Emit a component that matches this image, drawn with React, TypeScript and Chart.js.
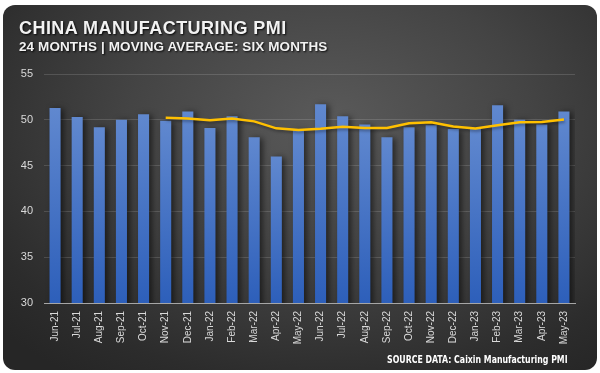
import React, { useEffect, useRef } from "react";
import { Chart, registerables } from "chart.js";

Chart.register(...registerables);

const months = [
  "Jun-21", "Jul-21", "Aug-21", "Sep-21", "Oct-21", "Nov-21", "Dec-21", "Jan-22",
  "Feb-22", "Mar-22", "Apr-22", "May-22", "Jun-22", "Jul-22", "Aug-22", "Sep-22",
  "Oct-22", "Nov-22", "Dec-22", "Jan-23", "Feb-23", "Mar-23", "Apr-23", "May-23",
];

const pmi = [
  51.3, 50.3, 49.2, 50.0, 50.6, 49.9, 50.9, 49.1,
  50.4, 48.1, 46.0, 48.9, 51.7, 50.4, 49.5, 48.1,
  49.2, 49.4, 49.0, 49.1, 51.6, 50.0, 49.5, 50.9,
];

const movingAvg: (number | null)[] = [
  null, null, null, null, null, 50.22, 50.15, 49.95,
  50.15, 49.83, 49.07, 48.9, 49.03, 49.25, 49.1, 49.1,
  49.63, 49.72, 49.27, 49.05, 49.4, 49.72, 49.77, 50.02,
];

const yMin = 30;
const yMax = 55;
const yStep = 5;

const title = "CHINA MANUFACTURING PMI";
const subtitle = "24 MONTHS | MOVING AVERAGE: SIX MONTHS";
const source = "SOURCE DATA: Caixin Manufacturing PMI";

export default function App() {
  const ref = useRef<HTMLCanvasElement | null>(null);

  useEffect(() => {
    document.body.style.margin = "0";
    const canvas = ref.current;
    if (!canvas) return;

    const shadowPlugin = {
      id: "barShadow",
      beforeDatasetDraw(chart: any, args: any) {
        const ctx = chart.ctx;
        ctx.save();
        if (args.index === 0) {
          ctx.shadowColor = "rgba(0,0,0,0.55)";
          ctx.shadowBlur = 6;
          ctx.shadowOffsetX = 3;
          ctx.shadowOffsetY = 1;
        } else {
          ctx.shadowColor = "rgba(0,0,0,0.35)";
          ctx.shadowBlur = 3;
          ctx.shadowOffsetX = 1;
          ctx.shadowOffsetY = 2;
        }
      },
      afterDatasetDraw(chart: any) {
        chart.ctx.restore();
      },
    };

    const chart = new Chart(canvas, {
      type: "bar",
      data: {
        labels: months,
        datasets: [
          {
            type: "bar",
            data: pmi,
            order: 2,
            barPercentage: 0.5,
            categoryPercentage: 1,
            backgroundColor: (c: any) => {
              const ch = c.chart;
              if (!ch.chartArea || c.type !== "data" || !c.parsed) return "#4472c4";
              const ys = ch.scales.y;
              const top = ys.getPixelForValue(c.parsed.y);
              const bottom = ys.getPixelForValue(yMin);
              const g = ch.ctx.createLinearGradient(0, top, 0, bottom);
              g.addColorStop(0, "#6088cf");
              g.addColorStop(1, "#2d5fba");
              return g;
            },
          } as any,
          {
            type: "line",
            data: movingAvg,
            order: 1,
            borderColor: "#FFC000",
            borderWidth: 2.5,
            pointRadius: 0,
            tension: 0,
            fill: false,
          } as any,
        ],
      },
      options: {
        responsive: false,
        animation: false,
        devicePixelRatio: 1,
        layout: { padding: { top: 74, right: 25, left: 0, bottom: 0 } },
        plugins: {
          legend: { display: false },
          tooltip: { enabled: false },
          title: { display: false },
        },
        scales: {
          x: {
            grid: { display: false, drawTicks: false },
            border: { display: true, color: "#a6a6a6", width: 1 },
            ticks: {
              color: "#d9d9d9",
              font: { family: "Liberation Sans", size: 10 },
              maxRotation: 90,
              minRotation: 90,
              padding: 8,
              autoSkip: false,
            },
            afterFit: (s: any) => {
              s.height = 70;
            },
          },
          y: {
            min: yMin,
            max: yMax,
            ticks: {
              stepSize: yStep,
              color: "#d9d9d9",
              font: { family: "Liberation Sans", size: 11 },
              padding: 11,
            },
            grid: { color: "rgba(255,255,255,0.14)", drawTicks: false, lineWidth: 1 },
            border: { display: false },
            afterFit: (s: any) => {
              s.width = 44;
            },
          },
        },
      } as any,
      plugins: [shadowPlugin],
    });

    return () => chart.destroy();
  }, []);

  const textShadow = "1px 1px 2px rgba(0,0,0,0.9)";

  return (
    <div
      style={{
        position: "fixed",
        left: 0,
        top: 0,
        width: 600,
        height: 373,
        background: "#ffffff",
        overflow: "hidden",
      }}
    >
      <div
        style={{
          position: "absolute",
          left: 3,
          top: 5,
          width: 594,
          height: 365,
          borderRadius: 12,
          background:
            "radial-gradient(ellipse 75% 85% at 55% 32%, #5a5a5a 0%, #444444 45%, #2c2c2c 85%, #262626 100%)",
        }}
      />
      <canvas
        ref={ref}
        width={600}
        height={373}
        style={{ position: "absolute", left: 0, top: 0, width: 600, height: 373 }}
      />
      <div
        style={{
          position: "absolute",
          left: 19,
          top: 18,
          fontFamily: "'Liberation Sans', Arial, sans-serif",
          fontWeight: 700,
          fontSize: 18,
          letterSpacing: 0.45,
          lineHeight: "20px",
          color: "#f2f2f2",
          textShadow,
          whiteSpace: "nowrap",
        }}
      >
        {title}
      </div>
      <div
        style={{
          position: "absolute",
          left: 19,
          top: 39,
          fontFamily: "'Liberation Sans', Arial, sans-serif",
          fontWeight: 700,
          fontSize: 13.5,
          letterSpacing: 0.1,
          lineHeight: "16px",
          color: "#f2f2f2",
          textShadow,
          whiteSpace: "nowrap",
        }}
      >
        {subtitle}
      </div>
      <div
        style={{
          position: "absolute",
          left: 387,
          top: 354,
          fontFamily: "'DejaVu Sans Condensed', 'Liberation Sans Narrow', sans-serif",
          fontWeight: 700,
          fontSize: 10,
          lineHeight: "12px",
          color: "#ffffff",
          whiteSpace: "nowrap",
          transformOrigin: "left top",
          transform: "scaleX(0.87)",
        }}
      >
        {source}
      </div>
    </div>
  );
}
